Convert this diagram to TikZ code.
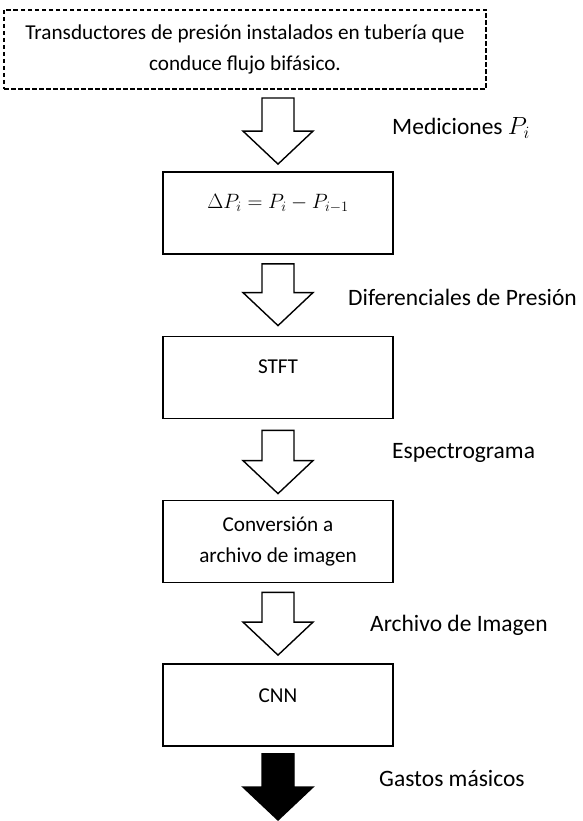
\documentclass[tikz,border=0pt]{standalone}
\usepackage{fontspec}
\setmainfont{Carlito}
\usetikzlibrary{calc}
\tikzset{
  box/.style={draw, line width=1.8pt, minimum width=230pt, minimum height=82pt, inner sep=0pt},
  dbox/.style={draw, line width=1.3pt, dash pattern=on 4.5pt off 2.5pt, minimum width=482pt, minimum height=79pt, inner sep=0pt},
  txt/.style={font=\fontsize{21.2}{31.5}\selectfont, align=center, inner sep=0pt},
  lbl/.style={font=\fontsize{23.5}{28}\selectfont, anchor=west, inner sep=0pt},
  blk/.style={draw, line width=1.4pt, line join=miter, fill=white},
}
\newcommand\blkarrow[3][white]{%
  \draw[blk, fill=#1] let \p1=(#2), \p2=(#3) in
    (\x1-16pt,\y1) -- (\x1+16pt,\y1) -- (\x1+16pt,\y2+33pt) -- (\x1+35pt,\y2+33pt)
    -- (\x1,\y2) -- (\x1-35pt,\y2+33pt) -- (\x1-16pt,\y2+33pt) -- cycle;}
\begin{document}
\begin{tikzpicture}[x=1pt,y=-1pt]
\useasboundingbox (0,0) rectangle (582,821);
% boxes
\node[dbox] (src) at (245,49.5) {};
\node[txt] (srct) at (src.center) {Transductores de presión instalados en tubería que\\conduce flujo bifásico.};
\node[box] (b1) at (278,213) {};
\node[txt, font=\fontsize{20.5}{26}\selectfont] (b1t) at ($(b1.north)+(0,32)$) {$\Delta P_i = P_i - P_{i-1}$};
\node[box] (b2) at (278,377.5) {};
\node[txt] (b2t) at ($(b2.north)+(0,31)$) {STFT};
\node[box] (b3) at (278,541.5) {};
\node[txt] (b3t) at (b3.center) {Conversión a\\archivo de imagen};
\node[box] (b4) at (278,705) {};
\node[txt] (b4t) at ($(b4.north)+(0,33)$) {CNN};
% arrow anchors
\coordinate (a1s) at (278,98);
\coordinate (a1e) at ($(b1.north)+(0,-7)$);
\coordinate (a2s) at ($(b1.south)+(0,9)$);
\coordinate (a2e) at ($(b2.north)+(0,-10)$);
\coordinate (a3s) at ($(b2.south)+(0,11)$);
\coordinate (a3e) at ($(b3.north)+(0,-6)$);
\coordinate (a4s) at ($(b3.south)+(0,9)$);
\coordinate (a4e) at ($(b4.north)+(0,-8)$);
\coordinate (a5s) at ($(b4.south)+(0,7)$);
\coordinate (a5e) at (278,820);
\blkarrow{a1s}{a1e}
\blkarrow{a2s}{a2e}
\blkarrow{a3s}{a3e}
\blkarrow{a4s}{a4e}
\blkarrow[black]{a5s}{a5e}
% labels
\node[lbl] (l1) at (392,128) {Mediciones $P_i$};
\node[lbl] (l2) at (348,297) {Diferenciales de Presión};
\node[lbl] (l3) at (392,453) {Espectrograma};
\node[lbl] (l4) at (370,625) {Archivo de Imagen};
\node[lbl] (l5) at (379,778) {Gastos másicos};
\end{tikzpicture}
\end{document}
